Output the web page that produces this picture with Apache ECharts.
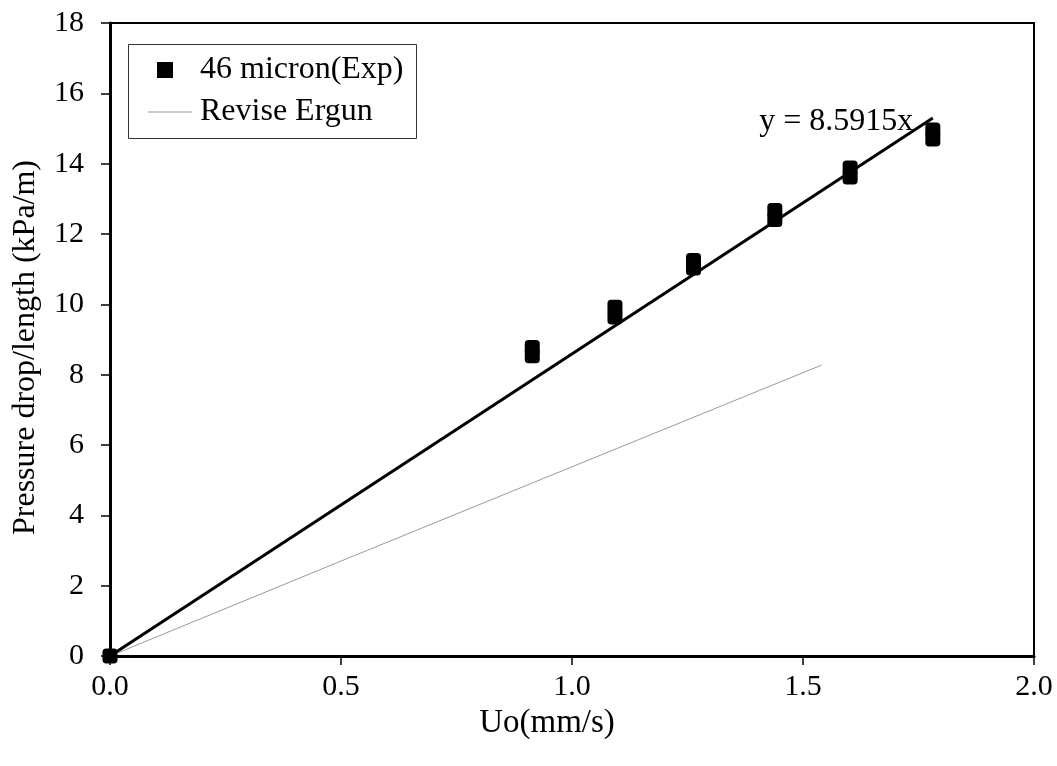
<!DOCTYPE html>
<html>
<head>
<meta charset="utf-8">
<script src="https://cdn.jsdelivr.net/npm/echarts@6/dist/echarts.min.js"></script>
<style>html,body{margin:0;padding:0;background:#fff;}#c{width:1057px;height:766px;}</style>
</head>
<body>
<div id="c"></div>
<script>
// Experimental data (46 micron), two measurements per velocity
const expX = [0, 0.914, 0.914, 1.093, 1.093, 1.263, 1.263, 1.439, 1.439, 1.602, 1.602, 1.781, 1.781];
const expY = [0, 8.77, 8.54, 9.92, 9.64, 11.25, 11.03, 12.67, 12.41, 13.88, 13.62, 14.96, 14.70];
// Linear trendline y = 8.5915x
const trendX = [0, 1.781];
const trendY = [0, 15.30];
// Revise Ergun prediction
const ergX = [0, 0.5, 1.0, 1.54];
const ergY = [0, 2.70, 5.38, 8.27];
const xTicks = [0, 0.5, 1.0, 1.5, 2.0];
const yTicks = [0, 2, 4, 6, 8, 10, 12, 14, 16, 18];
const seriesNames = ['46 micron(Exp)', 'Revise Ergun'];
const trendLabel = 'y = 8.5915x';
const xName = 'Uo(mm/s)';
const yName = 'Pressure drop/length (kPa/m)';

const FONT = 'Liberation Serif';
const zip = (a, b) => a.map((v, i) => [v, b[i]]);

const trendData = zip(trendX, trendY).map((p, i, arr) => i === arr.length - 1 ? {
  value: p,
  label: {show: true, formatter: trendLabel, position: 'left', distance: 5, offset: [-14, 4],
          fontFamily: FONT, fontSize: 32, color: '#000'}
} : {value: p});

const chart = echarts.init(document.getElementById('c'), null, {renderer: 'canvas'});
chart.setOption({
  backgroundColor: '#fff',
  animation: false,
  grid: {left: 110, right: 23, top: 23, bottom: 110, show: true, borderColor: '#000', borderWidth: 2, backgroundColor: 'transparent'},
  xAxis: {
    type: 'value', min: xTicks[0], max: xTicks[xTicks.length - 1], interval: 0.5,
    name: xName, nameLocation: 'middle', nameGap: 42,
    nameTextStyle: {fontFamily: FONT, fontSize: 33, color: '#000', padding: [0, 50, 0, 0]},
    axisLine: {lineStyle: {color: '#000', width: 3}},
    axisTick: {show: true, inside: false, length: 9, lineStyle: {color: '#000', width: 1.5}},
    axisLabel: {fontFamily: FONT, fontSize: 30, color: '#000', margin: 16, formatter: v => v.toFixed(1)},
    splitLine: {show: false}
  },
  yAxis: {
    type: 'value', min: yTicks[0], max: yTicks[yTicks.length - 1], interval: 2,
    name: yName, nameLocation: 'middle', nameGap: 68, nameRotate: 90,
    nameTextStyle: {fontFamily: FONT, fontSize: 32, color: '#000', padding: [0, 16, 0, 0]},
    axisLine: {lineStyle: {color: '#000', width: 3}},
    axisTick: {show: true, inside: false, length: 9, lineStyle: {color: '#000', width: 1.5}},
    axisLabel: {fontFamily: FONT, fontSize: 30, color: '#000', margin: 26},
    splitLine: {show: false}
  },
  legend: [
    {
      data: [{name: seriesNames[0], icon: 'rect'}],
      left: 157, top: 54, orient: 'vertical', padding: 0,
      itemWidth: 16, itemHeight: 16,
      textStyle: {fontFamily: FONT, fontSize: 32, color: '#000', lineHeight: 30, padding: [0, 0, 0, 22]},
      selectedMode: false
    },
    {
      data: [{name: seriesNames[1], icon: 'rect'}],
      left: 148, top: 96, orient: 'vertical', padding: 0,
      itemWidth: 44, itemHeight: 1,
      textStyle: {fontFamily: FONT, fontSize: 32, color: '#000', lineHeight: 30, padding: [0, 0, 0, 3]},
      selectedMode: false
    }
  ],
  graphic: [{
    type: 'rect', left: 128, top: 44, z: 0,
    shape: {width: 288, height: 94},
    style: {fill: 'transparent', stroke: '#333', lineWidth: 1}
  }],
  series: [
    {
      name: 'trend', type: 'line', data: trendData, showSymbol: true, symbol: 'circle', symbolSize: 1,
      itemStyle: {color: 'rgba(0,0,0,0)'},
      lineStyle: {color: '#000', width: 3}, z: 3, silent: true
    },
    {
      name: seriesNames[1], type: 'line', data: zip(ergX, ergY), showSymbol: false, symbol: 'none',
      lineStyle: {color: '#9a9a9a', width: 1}, itemStyle: {color: '#9a9a9a'}, z: 2
    },
    {
      name: seriesNames[0], type: 'scatter', data: zip(expX, expY),
      symbol: 'roundRect', symbolSize: [15, 15],
      itemStyle: {color: '#000', opacity: 1}, z: 4
    }
  ]
});
</script>
</body>
</html>
